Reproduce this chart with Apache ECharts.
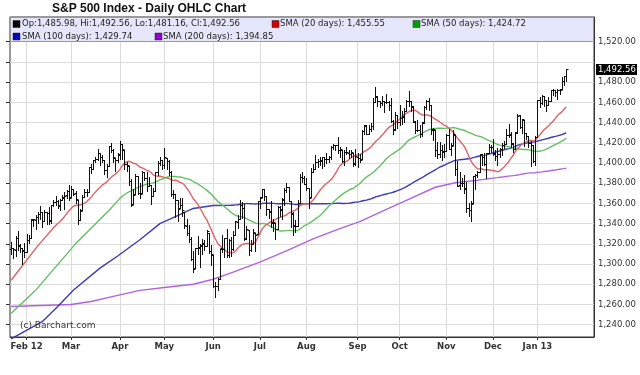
<!DOCTYPE html>
<html><head><meta charset="utf-8">
<script src="https://cdn.jsdelivr.net/npm/echarts@6/dist/echarts.min.js"></script>
<style>html,body{margin:0;padding:0;background:#fff}#c{width:640px;height:375px}</style>
</head><body><div id="c"></div>
<script>
// Daily bars [open, high, low, close], grouped by month
const jan12 = [[1315,1322,1310,1316.00],[1316,1316,1306,1314.65],[1314,1328,1308,1326.06],[1326,1333,1314,1318.43],[1318,1320,1312,1316.33],[1316,1316,1300,1313.01],[1314,1321,1307,1312.41]];
const feb12 = [[1312,1330,1312,1324.09],[1324,1329,1321,1325.54],[1326,1345,1326,1344.90],[1344,1345,1338,1344.33],[1344,1349,1335,1347.05],[1347,1352,1341,1349.96],[1350,1357,1345,1351.95],[1352,1352,1337,1342.64],[1343,1353,1343,1351.77],[1352,1352,1340,1350.50],[1351,1356,1340,1343.23],[1343,1358,1341,1358.04],[1358,1363,1357,1361.23],[1361,1367,1358,1362.21],[1362,1363,1355,1357.66],[1358,1364,1353,1363.46],[1363,1368,1363,1365.74],[1366,1371,1354,1367.59],[1368,1373,1365,1372.18],[1372,1378,1363,1365.68]];
const mar12 = [[1366,1377,1366,1374.09],[1374,1374,1368,1369.63],[1370,1372,1360,1364.33],[1363,1363,1340,1343.36],[1344,1354,1344,1352.63],[1353,1368,1353,1365.91],[1366,1374,1366,1370.87],[1371,1374,1367,1371.09],[1371,1396,1371,1395.95],[1396,1399,1390,1394.28],[1394,1403,1394,1402.60],[1403,1406,1401,1404.17],[1404,1414,1403,1409.75],[1410,1410,1398,1405.52],[1406,1408,1401,1402.89],[1403,1403,1389,1392.78],[1393,1399,1386,1397.11],[1397,1417,1397,1416.51],[1417,1420,1411,1412.52],[1413,1414,1401,1405.54],[1405,1405,1392,1403.28],[1403,1410,1401,1408.47]];
const apr12 = [[1408,1422,1404,1419.04],[1419,1419,1404,1413.38],[1413,1413,1394,1398.96],[1399,1401,1392,1398.08],[1397,1397,1378,1382.20],[1382,1384,1357,1358.59],[1359,1374,1359,1368.71],[1369,1389,1369,1387.57],[1387,1387,1369,1370.26],[1370,1380,1365,1369.57],[1370,1392,1370,1390.78],[1391,1391,1383,1385.14],[1385,1391,1372,1376.92],[1377,1386,1377,1378.53],[1378,1378,1359,1366.94],[1367,1375,1367,1371.97],[1372,1391,1372,1390.69],[1391,1402,1388,1399.98],[1400,1406,1398,1403.36],[1403,1403,1394,1397.91]];
const may12 = [[1398,1415,1395,1405.82],[1405,1405,1394,1402.31],[1402,1403,1388,1391.57],[1391,1392,1367,1369.10],[1369,1373,1365,1369.58],[1369,1369,1347,1363.72],[1363,1363,1343,1354.58],[1355,1365,1355,1357.99],[1358,1365,1348,1353.39],[1352,1352,1336,1338.35],[1338,1345,1329,1330.66],[1331,1339,1322,1324.80],[1325,1327,1304,1304.86],[1305,1313,1292,1295.22],[1296,1316,1296,1315.99],[1316,1328,1310,1316.63],[1316,1320,1297,1318.86],[1318,1325,1310,1320.68],[1320,1324,1314,1317.82],[1318,1334,1318,1332.42],[1331,1331,1311,1313.32],[1313,1319,1299,1310.33]];
const jun12 = [[1309,1309,1277,1278.04],[1278,1282,1267,1278.18],[1278,1286,1274,1285.50],[1285,1315,1285,1315.13],[1316,1329,1312,1314.99],[1315,1326,1307,1325.66],[1326,1335,1307,1308.93],[1309,1325,1307,1324.18],[1324,1327,1308,1314.88],[1315,1333,1314,1329.10],[1329,1343,1329,1342.84],[1342,1349,1336,1344.78],[1345,1363,1345,1357.98],[1358,1361,1346,1355.69],[1355,1359,1324,1325.51],[1325,1338,1325,1335.02],[1334,1334,1309,1313.72],[1314,1324,1313,1319.99],[1320,1335,1320,1331.85],[1331,1331,1313,1329.04],[1330,1362,1330,1362.16]];
const jul12 = [[1362,1366,1355,1365.51],[1366,1374,1366,1374.02],[1374,1374,1363,1367.58],[1367,1367,1349,1354.68],[1354,1354,1346,1352.46],[1352,1362,1337,1341.47],[1341,1345,1333,1341.45],[1341,1341,1325,1334.76],[1335,1357,1335,1356.78],[1356,1357,1348,1353.64],[1354,1365,1345,1363.67],[1364,1375,1358,1372.78],[1373,1380,1371,1376.51],[1376,1376,1362,1362.66],[1362,1362,1337,1350.52],[1350,1352,1329,1338.31],[1338,1344,1332,1337.89],[1338,1363,1338,1360.02],[1360,1389,1360,1385.97],[1386,1391,1381,1385.30],[1385,1387,1379,1379.32]];
const aug12 = [[1379,1385,1373,1375.32],[1375,1375,1355,1365.00],[1366,1395,1366,1390.99],[1391,1399,1391,1394.23],[1394,1408,1394,1401.35],[1401,1404,1396,1402.22],[1402,1406,1398,1402.80],[1402,1406,1395,1405.87],[1406,1406,1397,1404.11],[1404,1410,1400,1403.93],[1404,1407,1401,1405.53],[1406,1417,1404,1415.51],[1416,1419,1414,1418.16],[1418,1418,1413,1418.13],[1418,1426,1410,1413.17],[1413,1416,1406,1413.49],[1413,1413,1401,1402.08],[1402,1413,1398,1411.13],[1411,1416,1409,1410.44],[1410,1413,1405,1409.30],[1409,1413,1406,1410.49],[1410,1410,1397,1399.48],[1400,1414,1398,1406.58]];
const sep12 = [[1406,1410,1396,1404.94],[1405,1409,1401,1403.44],[1404,1433,1404,1432.12],[1432,1438,1429,1437.92],[1437,1438,1429,1429.08],[1429,1438,1429,1433.56],[1434,1440,1432,1436.56],[1437,1464,1434,1459.99],[1460,1475,1460,1465.77],[1466,1466,1456,1461.19],[1461,1461,1455,1459.32],[1459,1466,1457,1461.05],[1461,1461,1450,1460.26],[1460,1468,1459,1460.15],[1460,1461,1452,1456.89],[1457,1464,1441,1441.59],[1442,1443,1429,1433.32],[1433,1450,1433,1447.15],[1447,1447,1435,1440.67]];
const oct12 = [[1441,1457,1438,1444.49],[1445,1451,1439,1445.75],[1446,1454,1441,1450.99],[1451,1462,1451,1461.40],[1461,1471,1456,1460.93],[1461,1461,1451,1455.88],[1456,1456,1441,1441.48],[1441,1442,1430,1432.56],[1433,1443,1432,1432.84],[1433,1438,1426,1428.59],[1429,1441,1427,1440.13],[1440,1456,1440,1454.92],[1455,1462,1453,1460.91],[1461,1464,1452,1457.34],[1457,1457,1429,1433.19],[1433,1435,1423,1433.82],[1433,1433,1407,1413.11],[1413,1421,1405,1408.75],[1409,1421,1406,1412.97],[1413,1418,1403,1411.94],[1411,1419,1406,1412.16]];
const nov12 = [[1412,1429,1412,1427.59],[1428,1434,1414,1414.20],[1414,1420,1408,1417.26],[1418,1433,1418,1428.39],[1428,1428,1388,1394.53],[1394,1402,1377,1377.51],[1378,1391,1374,1379.85],[1380,1385,1377,1380.03],[1380,1388,1370,1374.53],[1375,1381,1352,1355.49],[1355,1360,1348,1353.33],[1353,1362,1343,1359.88],[1360,1387,1360,1386.89],[1387,1389,1374,1387.81],[1388,1392,1386,1391.03],[1391,1409,1391,1409.15],[1409,1409,1398,1406.29],[1406,1410,1398,1398.94],[1399,1410,1385,1409.93],[1410,1419,1410,1415.95],[1416,1418,1411,1416.18]];
const dec12 = [[1416,1424,1408,1409.46],[1409,1413,1403,1407.05],[1407,1415,1398,1409.28],[1409,1415,1406,1413.94],[1414,1420,1408,1418.07],[1418,1422,1415,1418.55],[1419,1434,1419,1427.84],[1428,1439,1426,1428.48],[1428,1431,1416,1419.45],[1419,1420,1411,1413.58],[1414,1431,1414,1430.36],[1430,1448,1430,1446.79],[1447,1447,1435,1435.81],[1436,1444,1430,1443.69],[1443,1443,1417,1430.15],[1430,1430,1424,1426.66],[1427,1427,1416,1419.83],[1420,1422,1397,1418.10],[1418,1418,1401,1402.43],[1402,1427,1398,1426.19]];
const jan13 = [[1426,1462,1426,1462.42],[1462,1465,1455,1459.37],[1459,1467,1458,1466.47],[1466,1466,1456,1461.89],[1462,1462,1451,1457.15],[1457,1465,1457,1461.02],[1461,1472,1461,1472.12],[1472,1473,1467,1472.05],[1472,1472,1466,1470.68],[1470,1473,1463,1472.34],[1472,1473,1468,1472.63],[1473,1485,1473,1480.94],[1481,1486,1477,1485.98],[1485.98,1492.56,1481.16,1492.56]];

// x-axis month labels (index of first trading day of each month)
const tickIndex = [7,27,49,69,91,112,133,156,175,196,217,237];
const tickLabels = ['Feb 12','Mar','Apr','May','Jun','Jul','Aug','Sep','Oct','Nov','Dec','Jan 13'];
const padCount = 12; // empty future slots on the right

// y-axis ticks
const yMin = 1240, yMax = 1520, yStep = 20;

const sma20Early = [[0,1284],[6,1301],[12,1318]];
const sma50Early = [[0,1251],[11,1274],[29,1320],[44,1353]];
const sma100Early = [[0,1226],[14,1243],[21,1258],[28,1274],[40,1296],[48,1308],[58,1324],[67,1340],[75,1348],[82,1355],[91,1358]];
const sma200Early = [[0,1258],[27,1260],[36,1263],[48,1269],[58,1274],[70,1277],[82,1280],[91,1285],[100,1292],[112,1302],[124,1313],[136,1325],[148,1335],[157,1342],[169,1354],[180,1365],[191,1376]];
const legendValues = ['1,455.55','1,424.72','1,429.74','1,394.85'];

const bars = [].concat(jan12,feb12,mar12,apr12,may12,jun12,jul12,aug12,sep12,oct12,nov12,dec12,jan13);
const closes = bars.map(b => b[3]);
const N = bars.length, total = N + padCount;
const cats = Array.from({length: total}, (_, i) => 'd' + i);
const labelAt = {}; tickIndex.forEach((t, k) => labelAt[t] = tickLabels[k]);
const isTick = (i) => labelAt[i] !== undefined;

function sma(n, early) {
  const out = new Array(N).fill(null);
  early.forEach(p => out[p[0]] = p[1]);
  for (let i = n - 1; i < N; i++) {
    let s = 0; for (let j = i - n + 1; j <= i; j++) s += closes[j];
    out[i] = +(s / n).toFixed(2);
  }
  return out;
}
const fmt = v => v.toLocaleString('en-US', {minimumFractionDigits: 2, maximumFractionDigits: 2});

// layout
const K = 1.0107, Y0 = 324.7; // px per point, pixel of 1240
const gTop = 17, gBot = 337, gLeft = 10, gRight = 46;
const minA = yMin - (gBot - Y0) / K, maxA = yMin + (Y0 - gTop) / K;
const FONT = 'DejaVu Sans';

const chart = echarts.init(document.getElementById('c'), null, {renderer: 'canvas'});
const ohlcData = bars.map((b, i) => [i, b[0], b[1], b[2], b[3]]);
const last = bars[N - 1];

function lineSeries(name, data, color) {
  return {type: 'line', name, data, xAxisIndex: 0, yAxisIndex: 0, symbol: 'none', connectNulls: true,
    clip: false, smooth: false, lineStyle: {color, width: 1.4}, z: 2, silent: true, animation: false};
}

chart.setOption({
  animation: false,
  backgroundColor: '#fff',
  grid: [
    {left: gLeft, right: gRight, top: gTop, height: gBot - gTop, show: true, borderColor: '#333', borderWidth: 1, backgroundColor: 'transparent'},
    {left: gLeft, right: gRight, top: Y0 - (yMax - yMin) * K, height: (yMax - yMin) * K}
  ],
  xAxis: [
    {type: 'category', gridIndex: 0, data: cats, boundaryGap: true,
     axisLine: {lineStyle: {color: '#333'}},
     axisTick: {show: true, alignWithLabel: true, interval: (i) => isTick(i), length: 3, lineStyle: {color: '#333'}},
     axisLabel: {interval: (i) => isTick(i), formatter: (v, i) => labelAt[i] || '', fontFamily: FONT, fontWeight: 'bold', fontSize: 8.5, color: '#333', margin: 5},
     splitLine: {show: true, interval: (i) => isTick(i), alignWithLabel: true, lineStyle: {color: '#dcdcdc'}}},
    {type: 'value', gridIndex: 1, min: 0, max: 1, show: false}
  ],
  yAxis: [
    {type: 'value', gridIndex: 0, min: minA, max: maxA, position: 'right',
     axisLine: {show: true, lineStyle: {color: '#333'}}, axisTick: {show: false}, axisLabel: {show: false}, splitLine: {show: false}},
    {type: 'value', gridIndex: 1, min: yMin, max: yMax, interval: yStep, position: 'right',
     axisLine: {show: false}, axisTick: {show: true, inside: true, length: 4, lineStyle: {color: '#333'}},
     axisLabel: {fontFamily: FONT, fontSize: 8.5, color: '#333', margin: 4,
       formatter: v => Math.abs(v - last[3]) < 10 ? '' : fmt(v)},
     splitLine: {show: true, lineStyle: {color: '#dcdcdc'}}}
  ],
  series: [
    lineSeries('SMA 200', sma(200, sma200Early), '#B063E0'),
    lineSeries('SMA 100', sma(100, sma100Early), '#3C3CB4'),
    lineSeries('SMA 50', sma(50, sma50Early), '#62C062'),
    lineSeries('SMA 20', sma(20, sma20Early), '#E06262'),
    {type: 'custom', name: 'OHLC', xAxisIndex: 0, yAxisIndex: 0, data: ohlcData, z: 5, silent: true,
     encode: {x: 0, y: [1, 2, 3, 4]},
     renderItem: function (params, api) {
       const i = api.value(0);
       const xo = api.coord([i, api.value(1)]);
       const xh = api.coord([i, api.value(2)]);
       const xl = api.coord([i, api.value(3)]);
       const xc = api.coord([i, api.value(4)]);
       const x = Math.round(xo[0]) + 0.5;
       const r = v => Math.round(v) + 0.5;
       const st = {stroke: '#111', lineWidth: 1};
       return {type: 'group', children: [
         {type: 'line', shape: {x1: x, y1: Math.round(xh[1]), x2: x, y2: Math.round(xl[1]) + 1}, style: st},
         {type: 'line', shape: {x1: x - 2, y1: r(xo[1]), x2: x, y2: r(xo[1])}, style: st},
         {type: 'line', shape: {x1: x, y1: r(xc[1]), x2: x + 2, y2: r(xc[1])}, style: st}
       ]};
     }}
  ]
});

const py = chart.convertToPixel({xAxisIndex: 0, yAxisIndex: 0}, [N - 1, last[3]])[1];
const legendColors = ['#000000', '#D00000', '#00A000', '#0000C0', '#9000D0'];
function sq(x, y, c) { return {type: 'rect', shape: {x: x, y: y - 3.5, width: 7, height: 7}, style: {fill: c, stroke: '#222', lineWidth: 0.5}, z: 101}; }
function tx(x, y, t, extra) { return {type: 'text', x: x, y: y, style: Object.assign({text: t, font: '8.5px "DejaVu Sans"', fill: '#222', textVerticalAlign: 'middle'}, extra || {}), z: 101}; }
const r1 = 24, r2 = 36.5;
chart.setOption({graphic: [
  {type: 'text', x: 52, y: 8.5, style: {text: 'S&P 500 Index - Daily OHLC Chart', font: 'bold 12px "Liberation Sans"', fill: '#111', textVerticalAlign: 'middle'}, z: 101},
  {type: 'rect', shape: {x: 10.5, y: 17.5, width: 583, height: 24}, style: {fill: '#E6E6FA', stroke: '#999', lineWidth: 1}, z: 100},
  sq(13, r1, legendColors[0]), tx(22, r1, 'Op:' + fmt(last[0]) + ', Hi:' + fmt(last[1]) + ', Lo:' + fmt(last[2]) + ', Cl:' + fmt(last[3])),
  sq(272, r1, legendColors[1]), tx(280, r1, 'SMA (20 days): ' + legendValues[0]),
  sq(413, r1, legendColors[2]), tx(421, r1, 'SMA (50 days): ' + legendValues[1]),
  sq(13, r2, legendColors[3]), tx(22, r2, 'SMA (100 days): ' + legendValues[2]),
  sq(155, r2, legendColors[4]), tx(163, r2, 'SMA (200 days): ' + legendValues[3]),
  tx(20, 326, '(c) Barchart.com', {font: '9px "DejaVu Sans"', fill: '#333'}),
  {type: 'rect', shape: {x: 596, y: Math.round(py) - 5, width: 41, height: 11}, style: {fill: '#000'}, z: 101},
  tx(598, Math.round(py) + 0.5, fmt(last[3]), {fill: '#fff'})
]});
</script>
</body></html>
